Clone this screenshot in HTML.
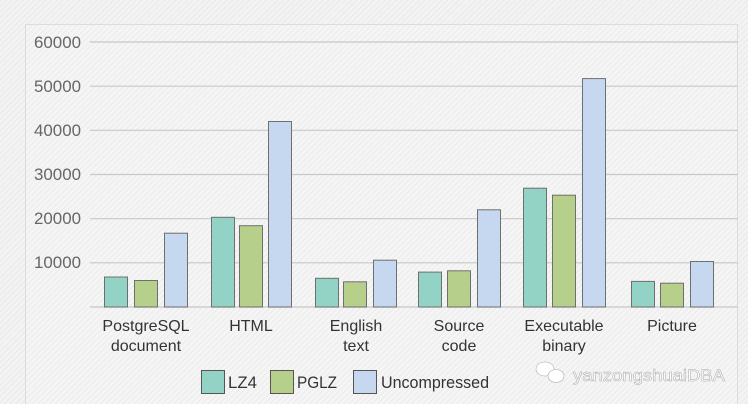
<!DOCTYPE html>
<html><head><meta charset="utf-8"><style>
body{margin:0;width:748px;height:404px;overflow:hidden;font-family:"Liberation Sans",sans-serif;
background:repeating-linear-gradient(135deg,#e9e9e9 0 1px,#f3f3f3 1px 4px);}
</style></head><body>
<svg width="748" height="404" style="position:absolute;left:0;top:0">
<defs><pattern id="h" width="4" height="4" patternUnits="userSpaceOnUse" patternTransform="rotate(45)">
<rect width="4" height="4" fill="#f5f5f5"/><rect width="1" height="4" fill="#ebebeb"/></pattern></defs>
<rect x="25.5" y="24.5" width="712" height="390" fill="url(#h)" stroke="#dcdcdc"/>
<g stroke="#c8c8c8" stroke-width="1.2">
<line x1="90" x2="738" y1="42" y2="42"/><line x1="90" x2="738" y1="86.2" y2="86.2"/>
<line x1="90" x2="738" y1="130.3" y2="130.3"/><line x1="90" x2="738" y1="174.5" y2="174.5"/>
<line x1="90" x2="738" y1="218.7" y2="218.7"/><line x1="90" x2="738" y1="262.8" y2="262.8"/>
<line x1="90" x2="738" y1="307" y2="307"/></g>
<g font-size="17" fill="#666" lengthAdjust="spacingAndGlyphs">
<text x="34" y="48" textLength="47" lengthAdjust="spacingAndGlyphs">60000</text>
<text x="34" y="92" textLength="47" lengthAdjust="spacingAndGlyphs">50000</text>
<text x="34" y="136" textLength="47" lengthAdjust="spacingAndGlyphs">40000</text>
<text x="34" y="180" textLength="47" lengthAdjust="spacingAndGlyphs">30000</text>
<text x="34" y="224" textLength="47" lengthAdjust="spacingAndGlyphs">20000</text>
<text x="34" y="268" textLength="47" lengthAdjust="spacingAndGlyphs">10000</text></g>
<g stroke="#6f6f6f" stroke-width="1">
<rect x="104.5" y="277" width="23" height="30" fill="#93d3c5"/><rect x="134.5" y="280.5" width="23" height="26.5" fill="#b6cf8b"/><rect x="164.5" y="233.2" width="23" height="73.8" fill="#c6d8ef"/>
<rect x="211.5" y="217.3" width="23" height="89.7" fill="#93d3c5"/><rect x="239.5" y="225.7" width="23" height="81.3" fill="#b6cf8b"/><rect x="268.5" y="121.5" width="23" height="185.5" fill="#c6d8ef"/>
<rect x="315.5" y="278.3" width="23" height="28.7" fill="#93d3c5"/><rect x="343.5" y="281.8" width="23" height="25.2" fill="#b6cf8b"/><rect x="373.5" y="260.2" width="23" height="46.8" fill="#c6d8ef"/>
<rect x="418.5" y="272.1" width="23" height="34.9" fill="#93d3c5"/><rect x="447.5" y="270.8" width="23" height="36.2" fill="#b6cf8b"/><rect x="477.5" y="209.8" width="23" height="97.2" fill="#c6d8ef"/>
<rect x="523.5" y="188.2" width="23" height="118.8" fill="#93d3c5"/><rect x="552.5" y="195.2" width="23" height="111.8" fill="#b6cf8b"/><rect x="582.5" y="78.6" width="23" height="228.4" fill="#c6d8ef"/>
<rect x="631.5" y="281.4" width="23" height="25.6" fill="#93d3c5"/><rect x="660.5" y="283.2" width="23" height="23.8" fill="#b6cf8b"/><rect x="690.5" y="261.5" width="23" height="45.5" fill="#c6d8ef"/>
</g>
<g font-size="16" fill="#333" text-anchor="middle">
<text x="146" y="331">PostgreSQL</text><text x="146" y="351">document</text>
<text x="251" y="331">HTML</text>
<text x="356" y="331">English</text><text x="356" y="351">text</text>
<text x="459" y="331">Source</text><text x="459" y="351">code</text>
<text x="564" y="331">Executable</text><text x="564" y="351">binary</text>
<text x="672" y="331">Picture</text></g>
<g stroke="#555" stroke-width="1">
<rect x="201.5" y="370.5" width="23" height="23" fill="#93d3c5"/>
<rect x="270.5" y="370.5" width="23" height="23" fill="#b6cf8b"/>
<rect x="353.5" y="370.5" width="23" height="23" fill="#c6d8ef"/></g>
<g font-size="17" fill="#333"><text x="228" y="388" textLength="29" lengthAdjust="spacingAndGlyphs">LZ4</text><text x="297" y="388" textLength="40" lengthAdjust="spacingAndGlyphs">PGLZ</text><text x="381" y="388" textLength="108" lengthAdjust="spacingAndGlyphs">Uncompressed</text></g>
<text x="573" y="381" font-size="17" fill="#fff" stroke="#aaa" stroke-width="0.5" textLength="152" lengthAdjust="spacingAndGlyphs">yanzongshuaiDBA</text>
<g fill="#fff" stroke="#aaa" stroke-width="0.6"><ellipse cx="545" cy="369" rx="9" ry="7"/><ellipse cx="556" cy="376" rx="8" ry="6.5"/></g>
</svg>
</body></html>
